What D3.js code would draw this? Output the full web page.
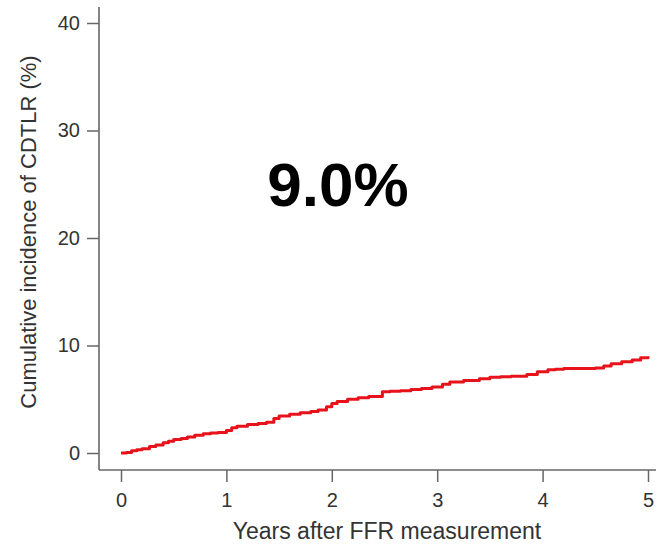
<!DOCTYPE html>
<html><head><meta charset="utf-8">
<script src="https://cdn.jsdelivr.net/npm/d3@7"></script>
<style>html,body{margin:0;padding:0;background:#fff;}svg{display:block;font-family:"Liberation Sans",Arial,sans-serif;}</style>
</head><body>
<svg id="c" width="659" height="546"></svg>
<script>
const years = [0,0.05,0.1,0.15,0.2,0.27,0.33,0.4,0.45,0.5,0.57,0.63,0.7,0.78,0.85,0.92,1.0,1.05,1.1,1.2,1.3,1.38,1.45,1.5,1.6,1.7,1.8,1.87,1.95,2.0,2.05,2.15,2.25,2.35,2.48,2.55,2.65,2.75,2.85,2.95,3.05,3.12,3.25,3.4,3.5,3.6,3.7,3.85,3.95,4.05,4.12,4.2,4.5,4.58,4.65,4.75,4.85,4.93,5.0];
const incidence = [0,0.05,0.2,0.3,0.4,0.6,0.75,0.95,1.1,1.25,1.35,1.5,1.65,1.8,1.85,1.9,2.1,2.35,2.5,2.65,2.75,2.85,3.2,3.45,3.6,3.75,3.85,4.0,4.3,4.6,4.8,5.0,5.15,5.25,5.7,5.75,5.8,5.9,6.0,6.15,6.4,6.6,6.75,6.9,7.05,7.1,7.15,7.3,7.55,7.75,7.8,7.85,7.9,8.1,8.3,8.5,8.65,8.85,9.0];
const xTicks = [0,1,2,3,4,5];
const yTicks = [0,10,20,30,40];
const annotation = "9.0%";
const xTitle = "Years after FFR measurement";
const yTitle = "Cumulative incidence of CDTLR (%)";

const svg = d3.select("#c");
const x = d3.scaleLinear().domain([0,5]).range([121,648]);
const y = d3.scaleLinear().domain([0,40]).range([453,23]);
const axisColor = "#666", textColor = "#333";

// frame (L-shaped)
svg.append("line").attr("x1",99).attr("x2",99).attr("y1",7).attr("y2",470).attr("stroke",axisColor).attr("stroke-width",1.6);
svg.append("line").attr("x1",99).attr("x2",656).attr("y1",470).attr("y2",470).attr("stroke",axisColor).attr("stroke-width",1.6);

const ya = svg.append("g").attr("transform","translate(99,0)")
  .call(d3.axisLeft(y).tickValues(yTicks).tickSize(12).tickPadding(7).tickFormat(d3.format("d")));
ya.select(".domain").remove();
ya.selectAll("line").attr("stroke",axisColor).attr("stroke-width",1.5);
ya.selectAll("text").attr("fill",textColor).style("font-size","20px");

const xa = svg.append("g").attr("transform","translate(0,470)")
  .call(d3.axisBottom(x).tickValues(xTicks).tickSize(12).tickPadding(11).tickFormat(d3.format("d")));
xa.select(".domain").remove();
xa.selectAll("line").attr("stroke",axisColor).attr("stroke-width",1.5);
xa.selectAll("text").attr("fill",textColor).style("font-size","20px");

svg.append("text").attr("x",387).attr("y",539).attr("text-anchor","middle")
  .attr("fill",textColor).style("font-size","23px").text(xTitle);
svg.append("text").attr("transform","translate(36,232) rotate(-90)").attr("text-anchor","middle")
  .attr("fill",textColor).style("font-size","22px").text(yTitle);

const data = years.map((t,i)=>({t,v:incidence[i]}));
svg.append("path").datum(data)
  .attr("d", d3.line().x(d=>x(d.t)).y(d=>y(d.v)).curve(d3.curveStepAfter))
  .attr("fill","none").attr("stroke","#e8121a").attr("stroke-width",3).attr("stroke-linejoin","round");

svg.append("text").attr("x",338).attr("y",206).attr("text-anchor","middle")
  .attr("fill","#000").style("font-size","62px").style("font-weight","bold").text(annotation);
</script>
</body></html>
